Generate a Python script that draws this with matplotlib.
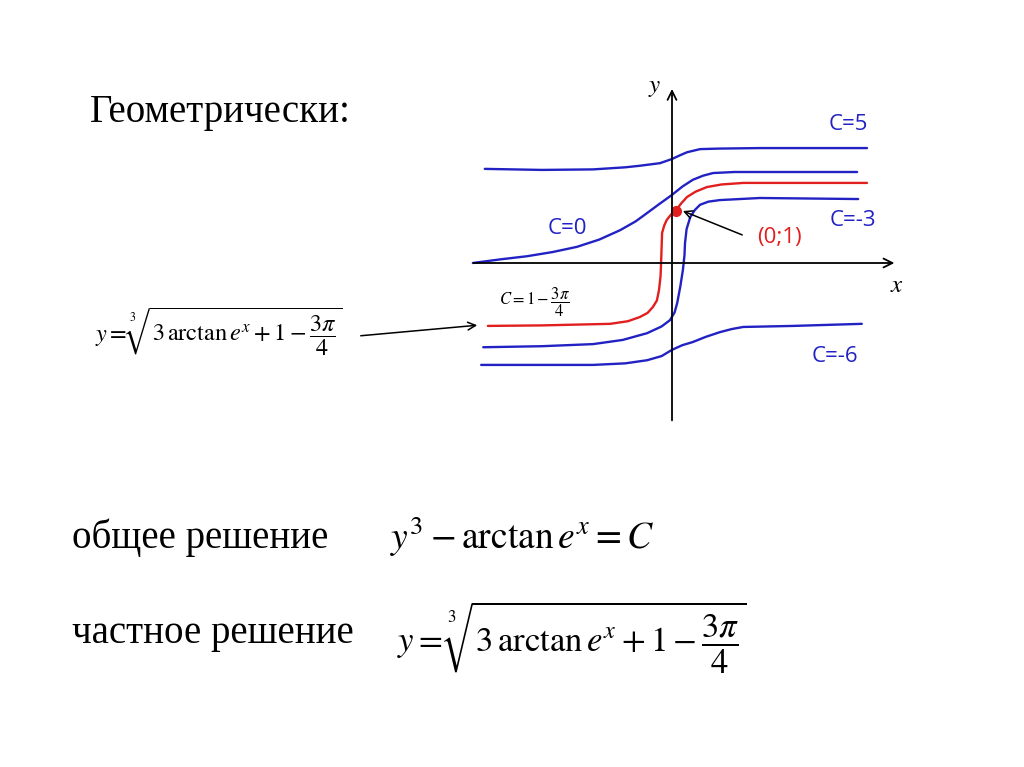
import matplotlib
matplotlib.use("Agg")
import matplotlib.pyplot as plt

plt.rcParams['mathtext.fontset'] = 'stix'
plt.rcParams['font.family'] = ['Liberation Serif', 'DejaVu Serif']

# hand-drawn integral curves (x, y in axis units)
c5_x = [-3.60, -2.50, -1.52, -0.90, -0.62, -0.23, 0.00, 0.15, 0.29, 0.54, 0.90, 1.69, 3.75]
c5_y = [1.81, 1.79, 1.80, 1.84, 1.87, 1.92, 2.00, 2.07, 2.13, 2.19, 2.20, 2.21, 2.21]

c0_x = [-3.83, -3.30, -2.79, -2.30, -1.83, -1.40, -1.00, -0.70, -0.48, -0.25, 0.00, 0.20, 0.40, 0.60, 0.79, 1.20, 1.69, 3.56]
c0_y = [0.00, 0.07, 0.13, 0.21, 0.31, 0.45, 0.63, 0.80, 0.96, 1.13, 1.31, 1.47, 1.60, 1.68, 1.73, 1.75, 1.75, 1.75]

cp_x = [-3.54, -2.50, -1.19, -0.85, -0.62, -0.47, -0.37, -0.29, -0.25, -0.22, -0.21, -0.20, -0.19, -0.15, -0.10, -0.02, 0.08, 0.18, 0.29, 0.45, 0.67, 0.95, 1.37, 2.50, 3.75]
cp_y = [-1.21, -1.20, -1.17, -1.12, -1.04, -0.96, -0.85, -0.72, -0.52, -0.25, 0.00, 0.30, 0.58, 0.72, 0.83, 0.93, 1.02, 1.15, 1.27, 1.37, 1.46, 1.51, 1.54, 1.54, 1.54]

c3_x = [-3.63, -2.50, -1.52, -0.95, -0.48, -0.20, -0.04, 0.05, 0.10, 0.16, 0.21, 0.24, 0.25, 0.28, 0.35, 0.44, 0.54, 0.70, 0.92, 1.69, 3.58]
c3_y = [-1.62, -1.60, -1.56, -1.48, -1.35, -1.22, -1.10, -0.95, -0.77, -0.45, -0.13, 0.15, 0.38, 0.65, 0.88, 1.02, 1.12, 1.18, 1.21, 1.25, 1.23]

c6_x = [-3.67, -2.50, -1.52, -0.90, -0.48, -0.20, 0.00, 0.20, 0.40, 0.65, 0.92, 1.15, 1.37, 2.33, 3.65]
c6_y = [-1.96, -1.96, -1.96, -1.93, -1.87, -1.79, -1.67, -1.58, -1.52, -1.42, -1.33, -1.27, -1.23, -1.21, -1.17]

point = (0.08, 1.0)

blue = '#2222c4'
red = '#e21f1f'

# 1024x767 px, origin of the sketch at pixel (672, 263), 52 px per unit
W, H = 1024, 767
ox, oy, unit = 672, 263, 52.0

fig = plt.figure(figsize=(W / 100, H / 100), dpi=100)
ax = fig.add_axes([0, 0, 1, 1])
ax.set_xlim(-ox / unit, (W - ox) / unit)
ax.set_ylim(-(H - oy) / unit, oy / unit)
ax.axis('off')


def px(x, y):
    # pixel position -> figure fraction, for placing text
    return x / W, 1 - y / H


# coordinate axes
ax.annotate('', xy=(4.33, 0), xytext=(-3.87, 0),
            arrowprops=dict(arrowstyle='->', color='black', lw=1.3, mutation_scale=16))
ax.annotate('', xy=(0, 3.40), xytext=(0, -3.08),
            arrowprops=dict(arrowstyle='->', color='black', lw=1.3, mutation_scale=16))

for xs, ys in [(c5_x, c5_y), (c0_x, c0_y), (c3_x, c3_y), (c6_x, c6_y)]:
    ax.plot(xs, ys, color=blue, lw=1.7, solid_capstyle='round', solid_joinstyle='round')
ax.plot(cp_x, cp_y, color=red, lw=1.7, solid_capstyle='round', solid_joinstyle='round')
ax.plot(*point, 'o', color=red, ms=7)

# arrow to the point (0;1)
ax.annotate('', xy=(point[0] + 0.08, point[1] + 0.02), xytext=(1.40, 0.52),
            arrowprops=dict(arrowstyle='->', color='black', lw=1.1, mutation_scale=14))

# curve labels
lab = dict(family=['Open Sans', 'DejaVu Sans'], fontsize=16, ha='center', va='center')
fig.text(*px(848, 125), 'C=5', color=blue, **lab)
fig.text(*px(853, 221), 'C=-3', color=blue, **lab)
fig.text(*px(567, 229), 'C=0', color=blue, **lab)
fig.text(*px(835, 357), 'C=-6', color=blue, **lab)
fig.text(*px(779, 238), '(0;1)', color=red, **lab)

fig.text(*px(655, 88), r'$y$', fontsize=18, ha='center', va='center')
fig.text(*px(897, 286), r'$x$', fontsize=18, ha='center', va='center')

fig.text(*px(534, 302), r'$C=1-\dfrac{3\pi}{4}$', fontsize=12, ha='center', va='center')

formula = r'$y=\sqrt[3]{3\,\mathrm{arctan}\,e^{x}+1-\dfrac{3\pi}{4}}$'
fig.text(*px(219, 331), formula, fontsize=17.5, ha='center', va='center')
ax.annotate('', xy=(px(480, 325)), xytext=(px(358, 336)),
            xycoords='figure fraction', textcoords='figure fraction',
            arrowprops=dict(arrowstyle='->', color='black', lw=1.1, mutation_scale=14))

# slide text
fig.text(*px(90, 122), 'Геометрически:', fontsize=28, ha='left', va='baseline')
fig.text(*px(72, 548), 'общее решение', fontsize=28, ha='left', va='baseline')
fig.text(*px(72, 643), 'частное решение', fontsize=28, ha='left', va='baseline')
fig.text(*px(390, 537), r'$y^{3}-\mathrm{arctan}\,e^{x}=C$', fontsize=27, ha='left', va='center')
fig.text(*px(397, 637), formula, fontsize=25, ha='left', va='center')

fig.savefig('out.png', dpi=100)
